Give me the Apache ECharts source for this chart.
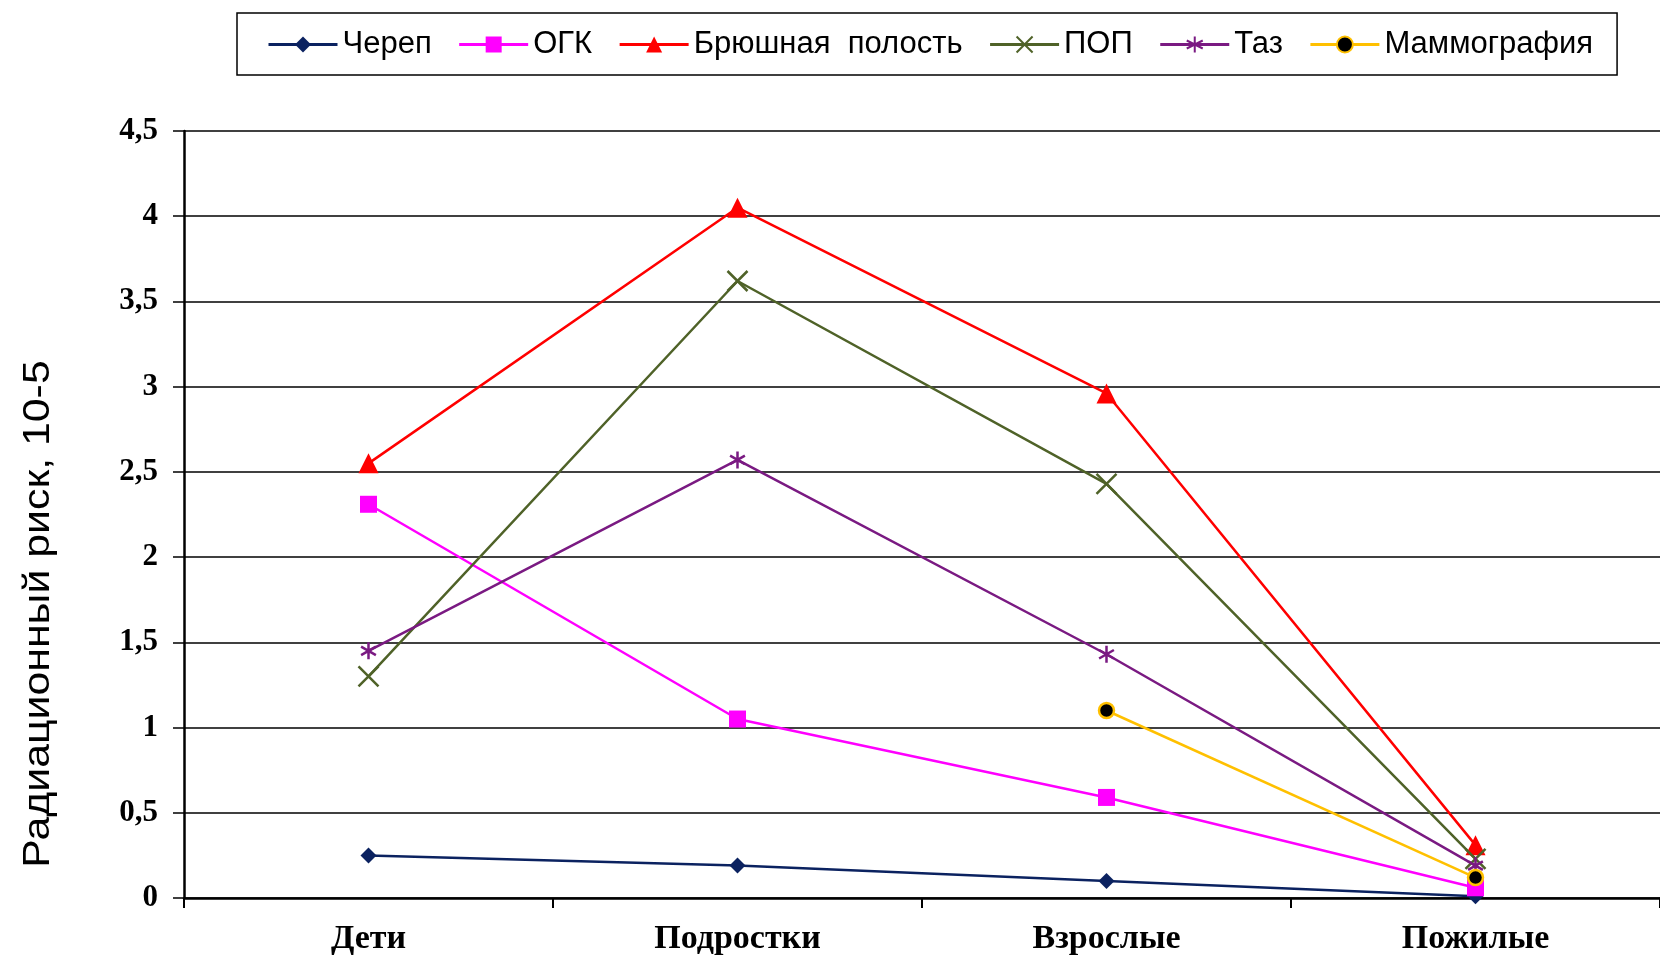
<!DOCTYPE html>
<html>
<head>
<meta charset="utf-8">
<script src="https://cdn.jsdelivr.net/npm/echarts@6/dist/echarts.min.js"></script>
<style>html,body{margin:0;padding:0;background:#fff}#c{width:1660px;height:956px}</style>
</head>
<body>
<div id="c"></div>
<script>
const categories = ['Дети', 'Подростки', 'Взрослые', 'Пожилые'];
const seriesNames = ['Череп', 'ОГК', 'Брюшная  полость', 'ПОП', 'Таз', 'Маммография'];
const cherep = [0.25, 0.19, 0.10, 0.01];
const ogk = [2.31, 1.05, 0.59, 0.06];
const bryush = [2.55, 4.05, 2.96, 0.31];
const pop = [1.30, 3.62, 2.43, 0.23];
const taz = [1.45, 2.57, 1.43, 0.19];
const mammo = [null, null, 1.10, 0.12];
const yTicks = { min: 0, max: 4.5, interval: 0.5 };
const yTitle = 'Радиационный риск, 10-5';

const chart = echarts.init(document.getElementById('c'), null, { renderer: 'canvas' });

const X_PATH = 'path://M0,0L20,20M20,0L0,20';
const AST_PATH = 'path://M10,0L10,20M1.3,5L18.7,15M1.3,15L18.7,5';

function mk(name, data, color, symbol, size, extra) {
  return Object.assign({
    name: name,
    type: 'line',
    data: data,
    symbol: symbol,
    symbolSize: size,
    symbolKeepAspect: true,
    lineStyle: { color: color, width: 2.5 },
    itemStyle: { color: color, borderColor: color, borderWidth: 0 },
    emphasis: { disabled: true },
    animation: false,
    z: 3
  }, extra || {});
}

const option = {
  backgroundColor: '#fff',
  animation: false,
  legend: {
    left: 237,
    top: 13,
    padding: [16, 24, 15, 30],
    borderColor: '#000',
    borderWidth: 1.5,
    itemWidth: 69,
    itemHeight: 20,
    itemGap: 26,
    lineStyle: { width: 3 },
    textStyle: { fontFamily: 'Liberation Sans, Arial', fontSize: 31, color: '#000' },
    data: seriesNames
  },
  grid: { left: 184, top: 131, width: 1482, height: 769 },
  xAxis: {
    type: 'category',
    data: categories,
    boundaryGap: true,
    axisLine: { lineStyle: { color: '#000', width: 2.5 } },
    axisTick: { show: true, alignWithLabel: false, length: 10, lineStyle: { color: '#000', width: 2 } },
    axisLabel: { fontFamily: 'Liberation Serif, Times New Roman', fontWeight: 'bold', fontSize: 34, color: '#000', margin: 24 },
    splitLine: { show: false }
  },
  yAxis: {
    type: 'value',
    min: yTicks.min,
    max: yTicks.max,
    interval: yTicks.interval,
    axisLine: { show: true, lineStyle: { color: '#000', width: 2.5 } },
    axisTick: { show: true, length: 11, lineStyle: { color: '#000', width: 1.5 } },
    axisLabel: {
      fontFamily: 'Liberation Serif, Times New Roman', fontWeight: 'bold', fontSize: 31, color: '#000', margin: 26,
      formatter: v => String(v).replace('.', ',')
    },
    splitLine: { show: true, lineStyle: { color: '#000', width: 1.5 } }
  },
  graphic: [{
    type: 'text',
    x: 39, y: 614,
    rotation: Math.PI / 2,
    scaleX: 1.19,
    style: {
      text: yTitle,
      fontFamily: 'Liberation Sans, Arial',
      fontSize: 36,
      fill: '#000',
      align: 'center',
      verticalAlign: 'middle'
    }
  }],
  series: [
    mk(seriesNames[0], cherep, '#0B2260', 'diamond', 16),
    mk(seriesNames[1], ogk, '#FF00FF', 'rect', 17),
    mk(seriesNames[2], bryush, '#FF0000', 'triangle', 20),
    mk(seriesNames[3], pop, '#4F6228', X_PATH, 20, { itemStyle: { color: '#4F6228', borderColor: '#4F6228', borderWidth: 2.5 } }),
    mk(seriesNames[4], taz, '#7A1A82', AST_PATH, 17, { itemStyle: { color: '#7A1A82', borderColor: '#7A1A82', borderWidth: 2.5 } }),
    mk(seriesNames[5], mammo, '#FFC000', 'circle', 15, { itemStyle: { color: '#000', borderColor: '#FFC000', borderWidth: 2.5 } })
  ]
};
chart.setOption(option);
</script>
</body>
</html>
